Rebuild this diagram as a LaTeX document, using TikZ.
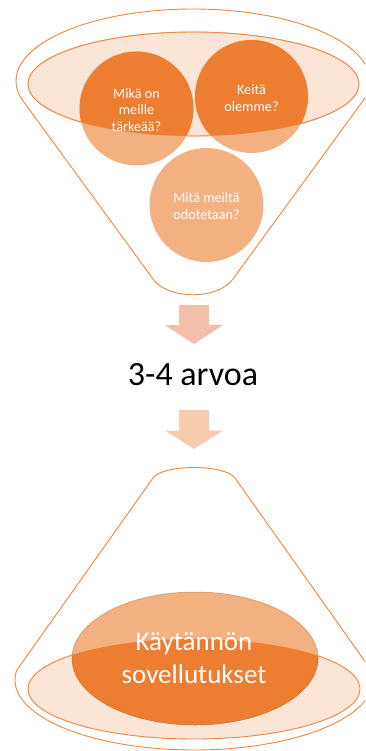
\documentclass[tikz,border=0pt]{standalone}
\usepackage{fontspec}
\setmainfont{Carlito}
\definecolor{orng}{HTML}{ED7D31}
\definecolor{lorng}{HTML}{F3B081}
\definecolor{peach}{HTML}{FBE5D6}
\definecolor{arrowA}{HTML}{F4BFAA}
\definecolor{arrowB}{HTML}{F8CBAD}
\definecolor{edge}{HTML}{EE8642}
\tikzset{
  outline/.style={draw=edge, line width=0.9pt},
  peachell/.style={fill=peach, draw=edge, line width=0.9pt},
  ctext/.style={text=white, align=center, font=\fontsize{14.2}{16.8}\selectfont, inner sep=0pt},
  btext/.style={text=white, font=\fontsize{27}{33}\selectfont, inner sep=0pt, anchor=base}
}
\begin{document}
\begin{tikzpicture}[x=1pt,y=-1pt]
\useasboundingbox (0,0) rectangle (365,751);
\clip (0,0) rectangle (365,751);
% ---------- top funnel ----------
\draw[outline] (153,279) -- plot[domain=166:374, samples=90, variable=\t] ({193+177*cos(\t)}, {81+72*sin(\t)})
  -- (233,279) .. controls (218,300) and (168,300) .. (153,279) -- cycle;
\path[peachell] (193.5,84) ellipse [x radius=165.5pt, y radius=52pt];
\fill[lorng] (136.5,108.5) circle [radius=57pt];
\fill[lorng] (251.5,96.5) circle [radius=56.5pt];
\fill[lorng] (206.5,205) circle [radius=57pt];
\begin{scope}
  \clip (193.5,84) ellipse [x radius=165.5pt, y radius=52pt];
  \fill[orng] (136.5,108.5) circle [radius=57pt];
  \fill[orng] (251.5,96.5) circle [radius=56.5pt];
\end{scope}
\draw[edge, line width=0.6pt, opacity=0.6] (193.5,84) ellipse [x radius=165.5pt, y radius=52pt];
\node[ctext] (ta) at (136.5,110) {Mikä on\\meille\\tärkeää?};
\node[ctext] (tb) at (251.5,98) {Keitä\\olemme?};
\node[ctext] (tc) at (206.5,206) {Mitä meiltä\\odotetaan?};
% ---------- arrows ----------
\fill[arrowA] (179,305) -- (209,305) -- (209,325) -- (223,325) -- (194,344) -- (165,325) -- (179,325) -- cycle;
\node[font=\fontsize{34}{40}\selectfont, text=black, anchor=base, inner sep=0pt] (mid) at (193,385) {3-4 arvoa};
\fill[arrowB] (179,410) -- (209,410) -- (209,430.5) -- (223,430.5) -- (194,449) -- (165,430.5) -- (179,430.5) -- cycle;
% ---------- bottom cone ----------
\draw[outline] (153,478) .. controls (163,464) and (225,464) .. (235,478)
  -- plot[domain=-8:188, samples=90, variable=\t] ({194+179*cos(\t)}, {680+70*sin(\t)}) -- cycle;
\path[peachell] (194,689) ellipse [x radius=166pt, y radius=50pt];
\fill[lorng] (195,658.5) ellipse [x radius=123pt, y radius=66.5pt];
\begin{scope}
  \clip (194,689) ellipse [x radius=166pt, y radius=50pt];
  \fill[orng] (195,658.5) ellipse [x radius=123pt, y radius=66.5pt];
\end{scope}
\draw[draw=orng!80!black, line width=0.5pt, opacity=0.6] (195,658.5) ellipse [x radius=123pt, y radius=66.5pt];
\node[btext] (k1) at (194,650) {Käytännön};
\node[btext] (k2) at (194,683) {sovellutukset};
\end{tikzpicture}
\end{document}
